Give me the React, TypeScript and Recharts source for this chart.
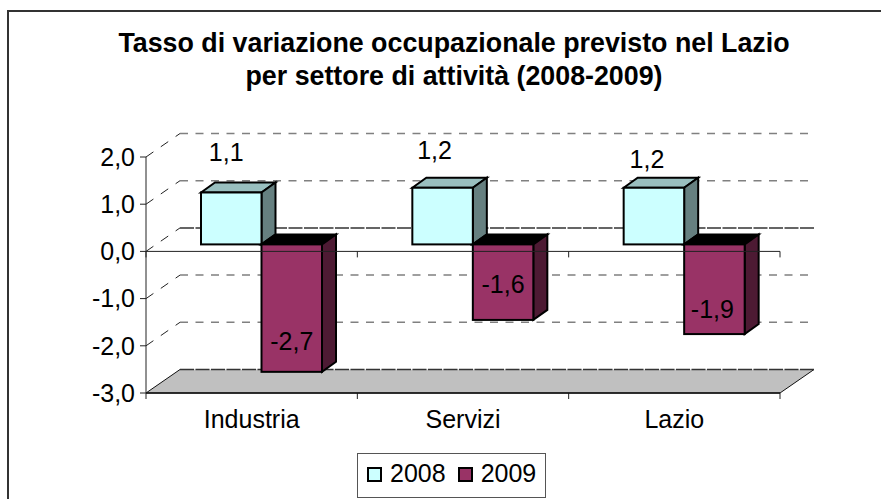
import React from "react";
import { Bar, CartesianGrid, ComposedChart, LabelList, Legend, ReferenceLine, XAxis, YAxis } from "recharts";

const categories = ["Industria", "Servizi", "Lazio"];
const values2008 = [1.1, 1.2, 1.2];
const values2009 = [-2.7, -1.6, -1.9];
const yTicks = [-3, -2, -1, 0, 1, 2];
const rows = categories.map((name, i) => ({ name, v2008: values2008[i], v2009: values2009[i] }));

const FONT = "'Liberation Sans', Arial, sans-serif";
const FS = 25;
const W = 881, H = 499;
const PLOT = { left: 146, right: 780, top: 157, bottom: 393 };
const ZERO_Y = PLOT.top + (2 / 5) * (PLOT.bottom - PLOT.top);
const WALL = { dx: 34, dy: 23.5 };
const BAR_SHIFT = { dx: 10, dy: 7 };
const BAR_DEPTH = { dx: 14, dy: 10 };
const nudge2008 = [[-5, -40], [-8, -38], [-7, -29]];
const nudge2009 = [[0, -31], [0, -36], [-2, -25]];

const fmt = (v: number) => v.toFixed(1).replace(".", ",");

function prism(colors: { front: string; top: string; side: string }) {
  return (p: any) => {
    const x = p.x + BAR_SHIFT.dx;
    const y = Math.min(p.y, p.y + p.height) - BAR_SHIFT.dy;
    const w = p.width;
    const h = Math.abs(p.height);
    const { dx, dy } = BAR_DEPTH;
    return (
      <g stroke="#000" strokeWidth={2} strokeLinejoin="miter">
        <polygon points={`${x},${y} ${x + dx},${y - dy} ${x + w + dx},${y - dy} ${x + w},${y}`} fill={colors.top} />
        <polygon points={`${x + w},${y} ${x + w + dx},${y - dy} ${x + w + dx},${y + h - dy} ${x + w},${y + h}`} fill={colors.side} />
        <rect x={x} y={y} width={w} height={h} fill={colors.front} />
      </g>
    );
  };
}

function wallLine(p: any) {
  const { x1, x2, y1 } = p;
  const isFloor = Math.abs(y1 - PLOT.bottom) < 1;
  const isZero = Math.abs(y1 - ZERO_Y) < 1;
  const bx1 = x1 + WALL.dx, bx2 = x2 + WALL.dx, by = y1 - WALL.dy;
  return (
    <g key={`wall-${y1}`}>
      {isFloor ? (
        <polygon points={`${x1},${y1} ${bx1},${by} ${bx2},${by} ${x2},${y1}`} fill="#C0C0C0" />
      ) : (
        <line x1={x1} y1={y1} x2={bx1} y2={by} stroke="#222" strokeWidth={1} strokeDasharray="9 9" />
      )}
      {isFloor && <line x1={x2} y1={y1} x2={bx2} y2={by} stroke="#111" strokeWidth={1} />}
      {isFloor && <line x1={x1} y1={y1} x2={bx1} y2={by} stroke="#111" strokeWidth={1} />}
      <line
        x1={bx1}
        y1={by}
        x2={bx2}
        y2={by}
        stroke={isFloor || isZero ? "#333" : "#808080"}
        strokeWidth={1.5}
        strokeDasharray={isFloor || isZero ? "14 1.5" : "8 7.5"}
      />
    </g>
  );
}

function tickedAxis(p: any) {
  const { x1, x2, y1 } = p;
  const step = (x2 - x1) / categories.length;
  return (
    <g stroke="#222" strokeWidth={1}>
      <line x1={x1} y1={y1} x2={x2} y2={y1} />
      {[0, 1, 2, 3].map((i) => (
        <line key={i} x1={x1 + step * i} y1={y1} x2={x1 + step * i} y2={y1 + 6} />
      ))}
    </g>
  );
}

function nudgedLabel(nudges: number[][], shift: number) {
  return (p: any) => {
    const [nx, ny] = nudges[p.index];
    const top = Math.min(p.y, p.y + p.height);
    const bottom = Math.max(p.y, p.y + p.height);
    const anchor = p.value > 0 ? top : bottom;
    return (
      <text
        x={p.x + p.width / 2 + shift + nx}
        y={anchor - BAR_SHIFT.dy + ny}
        textAnchor="middle"
        dominantBaseline="central"
        fontFamily={FONT}
        fontSize={FS}
        fill="#000"
      >
        {fmt(p.value)}
      </text>
    );
  };
}

function LegendBox({ payload }: any) {
  return (
    <div
      style={{
        display: "flex",
        alignItems: "center",
        width: 189,
        height: 45,
        boxSizing: "border-box",
        border: "1px solid #555",
        background: "#fff",
        padding: "0 0 5px 9px",
        fontFamily: FONT,
        fontSize: FS,
        color: "#000",
        gap: 12,
      }}
    >
      {(payload ?? []).map((e: any, i: number) => (
        <span key={i} style={{ display: "inline-flex", alignItems: "center", gap: 8 }}>
          <span style={{ width: 15, height: 15, marginTop: 3, boxSizing: "border-box", border: "2px solid #000", background: e.color, display: "inline-block" }} />
          {e.value}
        </span>
      ))}
    </div>
  );
}

const titleLine: React.CSSProperties = {
  position: "absolute",
  left: 0,
  width: 908,
  textAlign: "center",
  fontFamily: FONT,
  fontWeight: 700,
  fontSize: 26.8,
  lineHeight: "32px",
  color: "#000",
  whiteSpace: "nowrap",
};

export default function App() {
  return (
    <div style={{ position: "absolute", left: 0, top: 0, width: W, height: H, overflow: "hidden", background: "#fff" }}>
      <div style={{ position: "absolute", left: 7, top: 10, width: W, height: 2, background: "#333" }} />
      <div style={{ position: "absolute", left: 7, top: 10, width: 2, height: H, background: "#333" }} />
      <div style={{ ...titleLine, top: 26.5 }}>Tasso di variazione occupazionale previsto nel Lazio</div>
      <div style={{ ...titleLine, top: 60 }}>per settore di attività (2008-2009)</div>
      <ComposedChart
        width={W}
        height={H}
        data={rows}
        margin={{ top: PLOT.top, right: W - PLOT.right, left: 0, bottom: 0 }}
        barGap={0}
        style={{ position: "absolute", left: 0, top: 0 }}
      >
        <CartesianGrid vertical={false} horizontal={wallLine as any} stroke="none" syncWithTicks />
        <XAxis
          dataKey="name"
          height={H - PLOT.bottom}
          axisLine={{ stroke: "#111", strokeWidth: 1.5 }}
          tickLine={false}
          tick={{ fontFamily: FONT, fontSize: FS, fill: "#000" }}
          tickMargin={11}
          interval={0}
        />
        <YAxis
          width={PLOT.left}
          domain={[-3, 2]}
          ticks={yTicks}
          tickFormatter={fmt}
          axisLine={{ stroke: "#222", strokeWidth: 1 }}
          tickLine={{ stroke: "#222" }}
          tickSize={6}
          tickMargin={5}
          tick={{ fontFamily: FONT, fontSize: FS, fill: "#000" }}
        />
        <Legend
          verticalAlign="middle"
          align="center"
          content={<LegendBox />}
          wrapperStyle={{ top: 453, left: 357, width: "auto" }}
        />
        <Bar dataKey="v2008" name="2008" fill="#CCFFFF" barSize={60.5} isAnimationActive={false} shape={prism({ front: "#CCFFFF", top: "#99BFBF", side: "#668080" })}>
          <LabelList dataKey="v2008" content={nudgedLabel(nudge2008, BAR_SHIFT.dx) as any} />
        </Bar>
        <Bar dataKey="v2009" name="2009" fill="#993366" barSize={60.5} isAnimationActive={false} shape={prism({ front: "#993366", top: "#000000", side: "#4D1A33" })}>
          <LabelList dataKey="v2009" content={nudgedLabel(nudge2009, BAR_SHIFT.dx) as any} />
        </Bar>
        <ReferenceLine y={0} shape={tickedAxis as any} />
        <ReferenceLine y={-3} shape={tickedAxis as any} />
      </ComposedChart>
    </div>
  );
}
